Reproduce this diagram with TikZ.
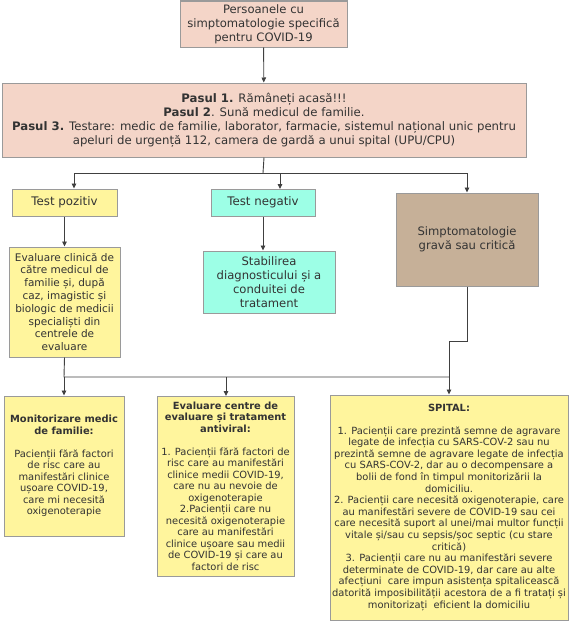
\documentclass[tikz,border=0pt]{standalone}
\usepackage{fontspec}
\setmainfont{DejaVu Sans}
\usetikzlibrary{arrows.meta}
\definecolor{pinkbox}{HTML}{F4D5C8}
\definecolor{yelbox}{HTML}{FFF59D}
\definecolor{cyanbox}{HTML}{9DFFE6}
\definecolor{brownbox}{HTML}{C6B098}
\definecolor{edgegray}{HTML}{9A9A9A}
\definecolor{linegray}{HTML}{404040}
\definecolor{txt}{HTML}{333333}
\tikzset{
  box/.style={draw=edgegray, line width=1pt, align=center, inner sep=0pt, text=txt},
  bigtxt/.style={font=\fontsize{11.8}{13.8}\selectfont},
  midtxt/.style={font=\fontsize{10.5}{12.8}\selectfont},
  smalltxt/.style={font=\fontsize{9.9}{11.5}\selectfont},
  conn/.style={draw=linegray, line width=0.9pt},
  arr/.style={conn, -{Triangle[length=5pt,width=4.5pt]}},
}
\begin{document}
\begin{tikzpicture}[x=1pt,y=-1pt]
\useasboundingbox (0,0) rectangle (569,621);
% boxes
\node[box, font=\fontsize{11.6}{13.8}\selectfont, fill=pinkbox, minimum width=167pt, minimum height=46pt] (b1) at (263.5,24)
  {Persoanele cu\\simptomatologie specifică\\pentru COVID-19};
\node[box, font=\fontsize{11.7}{13.9}\selectfont, fill=pinkbox, minimum width=524pt, minimum height=74pt] (b2) at (264,120)
  {\textbf{Pasul 1.} Rămâneți acasă!!!\\
   \textbf{Pasul 2}. Sună medicul de familie.\\
   \textbf{Pasul 3.} Testare: medic de familie, laborator, farmacie, sistemul național unic pentru\\
   apeluri de urgență 112, camera de gardă a unui spital (UPU/CPU)};
\node[box, bigtxt, fill=yelbox, minimum width=105pt, minimum height=27pt] (tp) at (64.5,202.5) {Test pozitiv};
\node[box, bigtxt, fill=cyanbox, minimum width=104pt, minimum height=27pt] (tn) at (263,202.5) {Test negativ};
\node[box, font=\fontsize{11.6}{14.2}\selectfont, fill=brownbox, minimum width=142pt, minimum height=93pt] (br) at (467,239.5)
  {Simptomatologie\\gravă sau critică};
\node[box, midtxt, fill=yelbox, minimum width=111pt, minimum height=110pt] (ev) at (64.5,302)
  {Evaluare clinică de\\către medicul de\\familie și, după\\caz, imagistic și\\biologic de medicii\\specialiști din\\centrele de\\evaluare};
\node[box, font=\fontsize{11.6}{13.9}\selectfont, fill=cyanbox, minimum width=132pt, minimum height=62pt] (st) at (269,282)
  {Stabilirea\\diagnosticului și a\\conduitei de\\tratament};
\node[box, smalltxt, fill=yelbox, minimum width=120pt, minimum height=140pt] (mo) at (64,466)
  {\textbf{Monitorizare medic}\\\textbf{de familie:}\\[11.5pt]
   Pacienții fără factori\\de risc care au\\manifestări clinice\\ușoare COVID-19,\\care mi necesită\\oxigenoterapie};
\node[box, smalltxt, fill=yelbox, minimum width=137pt, minimum height=180pt] (ec) at (225.5,486)
  {\textbf{Evaluare centre de}\\\textbf{evaluare și tratament}\\\textbf{antiviral:}\\[11.5pt]
   1. Pacienții fără factori de\\risc care au manifestări\\clinice medii COVID-19,\\care nu au nevoie de\\oxigenoterapie\\
   2.Pacienții care nu\\necesită oxigenoterapie\\care au manifestări\\clinice ușoare sau medii\\de COVID-19 și care au\\factori de risc};
\node[box, font=\fontsize{9.9}{11.6}\selectfont, fill=yelbox, minimum width=238pt, minimum height=225pt] (sp) at (449,507.5)
  {\textbf{SPITAL:}\\[10.5pt]
   1. Pacienții care prezintă semne de agravare\\
   legate de infecția cu SARS-COV-2 sau nu\\
   prezintă semne de agravare legate de infecția\\
   cu SARS-COV-2, dar au o decompensare a\\
   bolii de fond în timpul monitorizării la\\
   domiciliu.\\
   2. Pacienții care necesită oxigenoterapie, care\\
   au manifestări severe de COVID-19 sau cei\\
   care necesită suport al unei/mai multor funcții\\
   vitale și/sau cu sepsis/șoc septic (cu stare\\
   critică)\\
   3. Pacienții care nu au manifestări severe\\
   determinate de COVID-19, dar care au alte\\
   afecțiuni\ \ care impun asistența spitalicească\\
   datorită imposibilității acestora de a fi tratați și\\
   monitorizați\ \ eficient la domiciliu};
% connectors
\draw[arr] (b1) -- (b2);
\coordinate (j1) at (263,173);
\coordinate (jl) at (74,173);
\coordinate (jr) at (467,173);
\draw[conn] (b2.south) -- (j1);
\draw[conn] (jl) -- (jr);
\draw[arr] (jl) -- (jl |- tp.north);
\draw[arr] (280,173) -- (280,189);
\draw[arr] (jr) -- (br.north);
\draw[arr] (tp.south) -- (ev.north);
\draw[arr] (tn.south) -- (tn.south |- st.north);
\coordinate (k1) at (467,341);
\coordinate (k2) at (449,341);
\coordinate (m1) at (64,377);
\coordinate (m2) at (449,377);
\draw[arr] (br.south) -- (k1) -- (k2) -- (sp.north);
\draw[conn] (ev.south) -- (m1) -- (m2);
\draw[arr] (m1) -- (mo.north);
\draw[arr] (226,377) -- (226,396);
\end{tikzpicture}
\end{document}
